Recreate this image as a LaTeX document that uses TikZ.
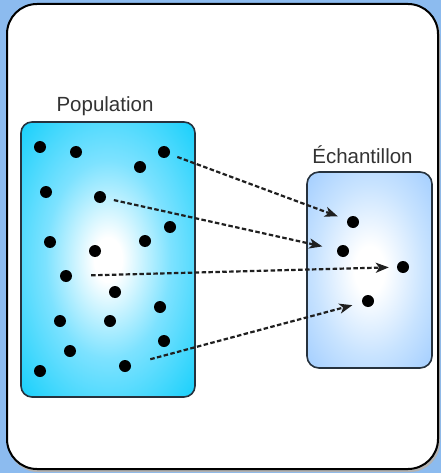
\documentclass[tikz,border=0pt]{standalone}
\usepackage{fontspec}
\setmainfont{Liberation Sans}
\usetikzlibrary{arrows.meta}

\definecolor{bgblue}{HTML}{8CBBEF}
\definecolor{popcyan}{HTML}{1AD0FB}
\definecolor{popmid}{HTML}{7DE2FF}
\definecolor{smpblue}{HTML}{9CCAFF}
\definecolor{smpmid}{HTML}{C8E3FF}
\definecolor{boxedge}{HTML}{26323E}
\definecolor{lbltext}{HTML}{333333}

% radial fills: white in the middle, coloured towards the border
\pgfdeclareradialshading{popshade}{\pgfpoint{0bp}{0bp}}{%
  color(0bp)=(white); color(4bp)=(white); color(18bp)=(popmid);
  color(35bp)=(popcyan); color(80bp)=(popcyan)}
\pgfdeclareradialshading{smpshade}{\pgfpoint{0bp}{0bp}}{%
  color(0bp)=(white); color(6bp)=(white); color(22bp)=(smpmid);
  color(38bp)=(smpblue); color(80bp)=(smpblue)}

\tikzset{
  dot/.style={circle, fill=black, inner sep=0pt, minimum size=12pt},
  lbl/.style={text=lbltext, font=\fontsize{20.5}{23}\selectfont, inner sep=0pt, anchor=base},
  group/.style={draw=boxedge, line width=1.6pt, rounded corners=11pt},
  pick/.style={draw=black!88, line width=2.2pt, dash pattern=on 4.5pt off 2.4pt,
    -{Stealth[length=13pt,width=10pt,inset=3.5pt]}},
}

\begin{document}
\begin{tikzpicture}[x=1pt, y=-1pt]
  % backdrop and panel
  \fill[bgblue] (0,0) rectangle (441,473);
  \useasboundingbox (0,0) rectangle (441,473);
  \fill[black!30, rounded corners=30pt] (8,6) rectangle (440,472);
  \filldraw[fill=white, draw=black, line width=2pt, rounded corners=30pt]
    (7,4) rectangle (438,469);

  % the two groups
  \shade[shading=popshade, rounded corners=11pt] (21,122) rectangle (195,397);
  \draw[group] (21,122) rectangle (195,397);
  \shade[shading=smpshade, rounded corners=12pt] (307,172) rectangle (432,368);
  \draw[group, rounded corners=12pt] (307,172) rectangle (432,368);

  \node[lbl] (poplbl) at (105,112) {Population};
  \node[lbl] (smplbl) at (362.5,164) {Échantillon};

  % population members
  \node[dot] (p1)  at (40,147) {};
  \node[dot] (p2)  at (76,152) {};
  \node[dot] (p3)  at (164,152) {};
  \node[dot] (p4)  at (140,167) {};
  \node[dot] (p5)  at (46,192) {};
  \node[dot] (p6)  at (100,197) {};
  \node[dot] (p7)  at (170,227) {};
  \node[dot] (p8)  at (50,242) {};
  \node[dot] (p9)  at (145,241) {};
  \node[dot] (p10) at (95,251) {};
  \node[dot] (p11) at (66,276) {};
  \node[dot] (p12) at (115,292) {};
  \node[dot] (p13) at (160,307) {};
  \node[dot] (p14) at (60,321) {};
  \node[dot] (p15) at (110,321) {};
  \node[dot] (p16) at (164,341) {};
  \node[dot] (p17) at (70,351) {};
  \node[dot] (p18) at (40,371) {};
  \node[dot] (p19) at (125,366) {};

  % sample members
  \node[dot] (s1) at (353,222) {};
  \node[dot] (s2) at (343,251) {};
  \node[dot] (s3) at (403,267) {};
  \node[dot] (s4) at (368,301) {};

  % selection arrows
  \draw[pick, shorten <=8pt, shorten >=10pt] (p3) -- (s1);
  \draw[pick, shorten <=8pt, shorten >=15pt] (p6) -- (s2);
  \draw[pick, shorten <=19pt, shorten >=8pt] (p11) -- (s3);
  \draw[pick, shorten <=20pt, shorten >=10pt] (p19) -- (s4);
\end{tikzpicture}
\end{document}
